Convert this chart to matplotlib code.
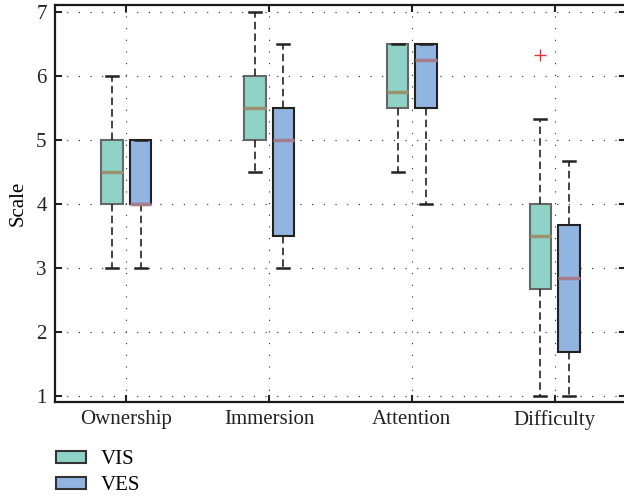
import matplotlib
matplotlib.use("Agg")
import matplotlib.pyplot as plt
from matplotlib.patches import Patch

categories = ["Ownership", "Immersion", "Attention", "Difficulty"]
groups = ["VIS", "VES"]

# per category: [whislo, q1, med, q3, whishi]
vis_whislo = [3.0, 4.5, 4.5, 1.0]
vis_q1 = [4.0, 5.0, 5.5, 2.67]
vis_med = [4.5, 5.5, 5.75, 3.5]
vis_q3 = [5.0, 6.0, 6.5, 4.0]
vis_whishi = [6.0, 7.0, 6.5, 5.33]
vis_fliers = [[], [], [], [6.33]]

ves_whislo = [3.0, 3.0, 4.0, 1.0]
ves_q1 = [4.0, 3.5, 5.5, 1.69]
ves_med = [4.0, 5.0, 6.25, 2.85]
ves_q3 = [5.0, 5.5, 6.5, 3.67]
ves_whishi = [5.0, 6.5, 6.5, 4.67]
ves_fliers = [[], [], [], []]

yticks = [1, 2, 3, 4, 5, 6, 7]

plt.rcParams['font.family'] = ['Liberation Serif', 'DejaVu Serif']
plt.rcParams['font.size'] = 15

fig = plt.figure(figsize=(6.24, 4.96), dpi=100)
ax = fig.add_axes([55/624, 1 - 402/496, 571/624, 397/496])

def stats(wl, q1, md, q3, wh, fl):
    return [dict(whislo=a, q1=b, med=c, q3=d, whishi=e, fliers=f)
            for a, b, c, d, e, f in zip(wl, q1, md, q3, wh, fl)]

vis_stats = stats(vis_whislo, vis_q1, vis_med, vis_q3, vis_whishi, vis_fliers)
ves_stats = stats(ves_whislo, ves_q1, ves_med, ves_q3, ves_whishi, ves_fliers)

base = list(range(1, len(categories) + 1))
offset = 0.1
width = 0.15

vis_face = "#8fd3c8"
ves_face = "#92b4e0"

def draw(st, pos, face, edge, medc):
    ax.bxp(st, positions=pos, widths=width, patch_artist=True,
           capwidths=0.085, manage_ticks=False,
           boxprops=dict(facecolor=face, edgecolor=edge, linewidth=1.5),
           whiskerprops=dict(color="#222222", linestyle=(0, (4.5, 2.5)), linewidth=1.2),
           capprops=dict(color="#222222", linewidth=1.8),
           medianprops=dict(color=medc, linewidth=2.5, solid_capstyle="butt"),
           flierprops=dict(marker="+", markeredgecolor="#e8323c", markersize=9,
                           markeredgewidth=1.0, linestyle="none"))

draw(vis_stats, [b - offset for b in base], vis_face, "#666666", "#9b9270")
draw(ves_stats, [b + offset for b in base], ves_face, "#222222", "#a57c8c")

ax.set_xlim(0.5, 4.5)
ax.set_ylim(0.905, 7.11)
ax.set_xticks(base)
ax.set_xticklabels(categories)
ax.set_yticks(yticks)
ax.set_ylabel("Scale", labelpad=6)

ax.grid(True, color="#222222", linestyle=(0, (1, 9.5)), linewidth=0.8)
ax.set_axisbelow(True)
ax.tick_params(direction="in", top=True, right=True, length=5, width=1.5, pad=6,
               colors="#222222", labelcolor="#222222")
for s in ax.spines.values():
    s.set_linewidth(1.6)
    s.set_color("#1a1a1a")

handles = [Patch(facecolor=vis_face, edgecolor="#333333", linewidth=1.5, label="VIS"),
           Patch(facecolor=ves_face, edgecolor="#333333", linewidth=1.5, label="VES")]
fig.legend(handles=handles, loc="upper left", bbox_to_anchor=(52/624, 1 - 446/496),
           frameon=False, handlelength=1.45, handleheight=0.5, handletextpad=0.7,
           labelspacing=0.35, borderaxespad=0, borderpad=0.2)

fig.savefig("out.png", dpi=100)
